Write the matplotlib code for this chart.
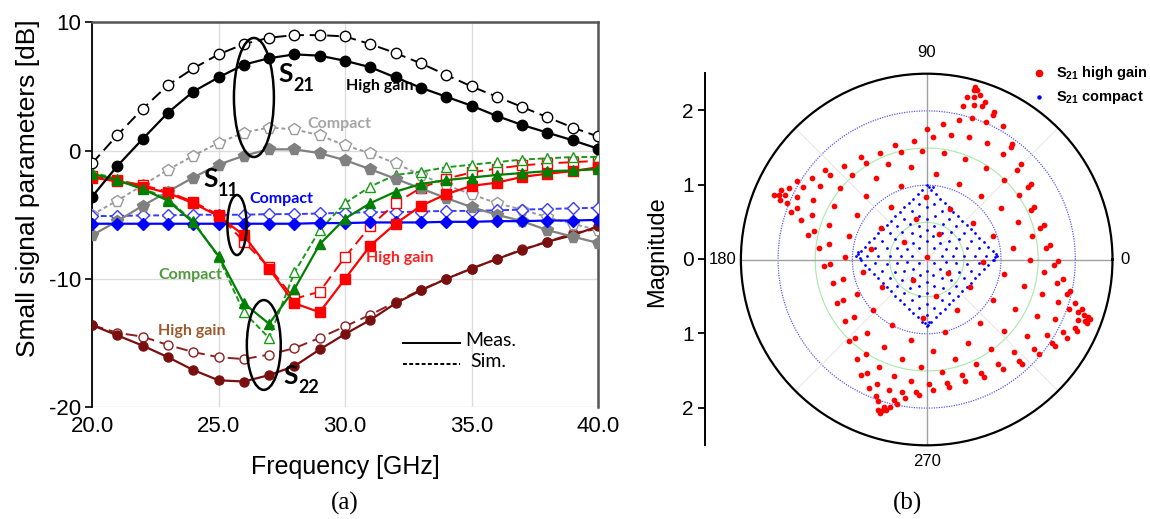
import numpy as np
import matplotlib
matplotlib.use('Agg')
import matplotlib.pyplot as plt
from matplotlib.patches import Ellipse
from matplotlib.lines import Line2D

plt.rcParams['font.family'] = ['Liberation Sans', 'DejaVu Sans']
plt.rcParams['mathtext.fontset'] = 'custom'
plt.rcParams['mathtext.rm'] = 'Liberation Sans'
plt.rcParams['mathtext.bf'] = 'Liberation Sans:bold'

# ---------------- data: panel (a) ----------------
freq_ghz = [20, 21, 22, 23, 24, 25, 26, 27, 28, 29, 30, 31, 32, 33, 34, 35, 36, 37, 38, 39, 40]

s21_hg_meas = [-3.6, -1.2, 0.9, 2.95, 4.6, 5.7, 6.7, 7.2, 7.5, 7.4, 7.0, 6.5, 5.7, 4.9, 4.2, 3.5, 2.7, 2.0, 1.4, 0.8, 0.15]
s21_hg_sim = [-1.0, 1.2, 3.25, 5.1, 6.4, 7.5, 8.3, 8.8, 9.0, 9.0, 8.9, 8.3, 7.6, 6.8, 5.9, 5.0, 4.2, 3.4, 2.6, 1.8, 1.1]

s11_cp_meas = [-6.6, -5.5, -4.3, -3.2, -2.1, -1.1, -0.4, 0.1, 0.1, -0.2, -0.75, -1.45, -2.2, -2.95, -3.7, -4.4, -5.0, -5.5, -6.2, -6.7, -7.2]
s11_cp_sim = [-5.0, -3.9, -2.7, -1.5, -0.4, 0.6, 1.4, 1.8, 1.65, 1.2, 0.4, -0.2, -1.0, -1.9, -2.7, -3.4, -4.1, -4.6, -5.2, -5.7, -6.2]

s11_hg_meas = [-5.7, -5.7, -5.7, -5.7, -5.7, -5.7, -5.7, -5.7, -5.7, -5.65, -5.65, -5.6, -5.6, -5.6, -5.55, -5.55, -5.5, -5.5, -5.45, -5.45, -5.4]
s11_hg_sim = [-5.1, -5.1, -5.05, -5.05, -5.0, -5.0, -5.0, -4.95, -4.95, -4.9, -4.85, -4.8, -4.8, -4.75, -4.7, -4.7, -4.65, -4.6, -4.55, -4.5, -4.45]

s22_red_meas = [-2.1, -2.4, -2.8, -3.3, -4.1, -5.1, -6.6, -9.2, -11.9, -12.6, -10.0, -7.4, -5.7, -4.3, -3.4, -2.75, -2.5, -2.05, -1.8, -1.6, -1.3]
s22_red_sim = [-2.0, -2.3, -2.7, -3.2, -4.0, -5.0, -7.1, -9.1, -11.55, -11.0, -8.3, -5.9, -4.1, -2.9, -2.2, -1.7, -1.4, -1.15, -1.0, -0.9, -0.8]

s22_cp_meas = [-1.8, -2.3, -3.0, -3.9, -5.6, -8.2, -11.9, -13.5, -10.8, -7.3, -5.3, -4.1, -3.2, -2.6, -2.3, -2.1, -1.9, -1.75, -1.6, -1.55, -1.45]
s22_cp_sim = [-1.7, -2.2, -2.9, -3.8, -5.5, -8.3, -12.6, -14.6, -9.5, -6.2, -4.1, -2.8, -1.9, -1.65, -1.3, -1.1, -0.9, -0.7, -0.6, -0.5, -0.5]

s22_hg_meas = [-13.6, -14.4, -15.2, -16.1, -17.1, -17.9, -18.0, -17.5, -16.8, -15.5, -14.3, -13.2, -11.9, -10.9, -10.0, -9.2, -8.45, -7.75, -7.1, -6.6, -5.9]
s22_hg_sim = [-13.6, -14.2, -14.5, -15.15, -15.7, -16.1, -16.25, -15.9, -15.4, -14.6, -13.7, -12.8, -11.8, -10.85, -10.0, -9.2, -8.45, -7.7, -7.1, -6.45, -6.1]

x_ticks = [20, 25, 30, 35, 40]
x_tick_labels = ['20.0', '25.0', '30.0', '35.0', '40.0']
y_ticks = [-20, -10, 0, 10]
y_tick_labels = ['-20', '-10', '0', '10']

# ---------------- data: panel (b) (real, imaginary parts of S21) ----------------
red_ul = [(0.01, 1.75), (-0.17, 1.60), (-0.43, 1.54), (-0.06, 1.46), (-0.34, 1.45), (-0.63, 1.43), (-0.89, 1.38),
          (-0.82, 1.30), (-0.52, 1.29), (-0.21, 1.24), (-1.11, 1.26), (-1.37, 1.21), (-1.30, 1.14), (-1.00, 1.14),
          (-0.68, 1.09), (-1.55, 1.09), (-1.75, 1.05), (-1.67, 0.98), (-1.44, 0.99), (-1.16, 0.96), (-0.34, 0.99),
          (-1.85, 0.96), (-1.96, 0.93), (-2.06, 0.87), (-1.99, 0.87), (-1.90, 0.87), (-1.98, 0.80), (-1.74, 0.84),
          (-0.82, 0.86), (-0.01, 0.84), (-1.88, 0.76), (-1.53, 0.80), (-1.25, 0.72), (-0.48, 0.71), (-1.74, 0.69),
          (-1.83, 0.64), (-1.55, 0.60), (-0.94, 0.60), (-0.15, 0.54), (-1.69, 0.53), (-1.31, 0.47), (-0.62, 0.43),
          (-1.51, 0.38), (-1.60, 0.33), (-1.04, 0.32), (-0.31, 0.23), (-1.32, 0.21), (-1.45, 0.15), (-0.75, 0.14),
          (-1.10, 0.03), (0.0, 0.03)]
red_ur = [(0.65, 2.32), (0.63, 2.28), (0.68, 2.28), (0.54, 2.18), (0.63, 2.19), (0.72, 2.21), (0.79, 2.12),
          (0.63, 2.08), (0.74, 2.06), (0.49, 2.06), (0.90, 1.99), (0.89, 1.95), (0.43, 1.88), (0.61, 1.90),
          (0.80, 1.85), (1.02, 1.79), (0.22, 1.82), (0.33, 1.68), (0.57, 1.65), (0.09, 1.65), (1.15, 1.56),
          (1.13, 1.52), (0.81, 1.57), (1.02, 1.42), (0.23, 1.43), (0.52, 1.35), (1.27, 1.28), (0.80, 1.23),
          (1.21, 1.21), (0.12, 1.15), (1.04, 1.07), (1.40, 1.02), (1.36, 0.98), (0.43, 1.01), (1.24, 0.87),
          (0.73, 0.86), (1.45, 0.71), (1.40, 0.66), (0.32, 0.68), (1.00, 0.69), (1.58, 0.47), (1.53, 0.42),
          (0.62, 0.49), (1.23, 0.51), (1.42, 0.32), (0.16, 0.34), (0.89, 0.32), (1.66, 0.19), (1.61, 0.16),
          (1.16, 0.16), (1.76, -0.02)]
red_ll = [(-1.30, -0.06), (-1.38, -0.09), (-0.86, -0.17), (-1.13, -0.26), (-1.26, -0.32), (-0.60, -0.37),
          (-0.18, -0.28), (-0.94, -0.47), (-1.13, -0.55), (-1.21, -0.58), (-0.72, -0.68), (-0.98, -0.77),
          (-1.10, -0.83), (-0.05, -0.79), (-0.47, -0.88), (-0.80, -0.99), (-0.97, -1.06), (-1.05, -1.10),
          (-0.21, -1.08), (-0.58, -1.18), (-0.82, -1.27), (-0.94, -1.34), (-0.33, -1.34), (-0.07, -1.45),
          (-0.64, -1.45), (-0.81, -1.53), (-0.89, -1.56), (-0.44, -1.57), (-0.21, -1.64), (0.03, -1.67),
          (-0.67, -1.67), (-0.78, -1.73), (-0.51, -1.75), (-0.14, -1.78), (-0.10, -1.82), (-0.33, -1.78),
          (-0.68, -1.84), (-0.29, -1.86), (-0.44, -1.89), (-0.40, -1.95), (-0.65, -1.90), (-0.57, -1.98),
          (-0.50, -1.98), (-0.65, -2.02), (-0.59, -2.02), (-0.63, -2.07), (-0.55, -2.03)]
red_lr = [(1.39, -0.01), (1.71, -0.07), (0.76, -0.03), (0.29, -0.18), (1.04, -0.20), (1.58, -0.17), (1.83, -0.26),
          (1.31, -0.35), (1.75, -0.32), (1.93, -0.43), (1.89, -0.47), (0.58, -0.37), (1.55, -0.47), (0.12, -0.49),
          (0.89, -0.54), (1.76, -0.57), (2.00, -0.58), (0.41, -0.68), (1.19, -0.67), (1.92, -0.66), (2.09, -0.67),
          (2.04, -0.71), (1.48, -0.76), (1.72, -0.80), (2.12, -0.75), (2.17, -0.77), (2.20, -0.80), (2.13, -0.83),
          (2.04, -0.82), (2.16, -0.85), (0.72, -0.85), (1.99, -0.92), (2.02, -0.96), (1.83, -0.98), (1.89, -1.05),
          (0.25, -0.97), (1.04, -0.96), (1.62, -1.02), (1.35, -1.03), (1.69, -1.13), (1.73, -1.17), (0.55, -1.13),
          (0.87, -1.21), (1.17, -1.24), (1.45, -1.20), (1.51, -1.27), (0.08, -1.23), (0.38, -1.34), (1.24, -1.36),
          (1.28, -1.40), (0.67, -1.40), (0.96, -1.41), (1.02, -1.48), (0.20, -1.52), (0.47, -1.55), (0.73, -1.53),
          (0.77, -1.58), (0.51, -1.63), (0.27, -1.66), (0.30, -1.71), (0.08, -1.75)]

blue_outer = [(0, 1.0), (0.06, 0.94), (0.12, 0.88), (0.18, 0.82), (0.24, 0.76), (0.30, 0.70), (0.36, 0.64),
              (0.42, 0.58), (0.48, 0.52), (0.54, 0.46), (0.59, 0.41), (0.65, 0.35), (0.71, 0.29), (0.77, 0.23),
              (0.83, 0.17), (0.89, 0.11), (0.95, 0.05), (0.89, -0.01), (0.83, -0.07), (0.77, -0.13), (0.71, -0.19),
              (0.65, -0.25), (0.59, -0.31), (0.54, -0.37), (0.48, -0.43), (0.42, -0.49), (0.36, -0.54),
              (0.30, -0.60), (0.24, -0.66), (0.18, -0.72), (0.12, -0.78), (0.06, -0.84), (0, -0.90),
              (-0.06, -0.84), (-0.12, -0.78), (-0.18, -0.72), (-0.24, -0.66), (-0.30, -0.60), (-0.36, -0.54),
              (-0.42, -0.49), (-0.48, -0.43), (-0.54, -0.37), (-0.59, -0.31), (-0.65, -0.25), (-0.71, -0.19),
              (-0.77, -0.13), (-0.83, -0.07), (-0.89, -0.01), (-0.95, 0.05), (-0.89, 0.11), (-0.83, 0.17),
              (-0.77, 0.23), (-0.71, 0.29), (-0.65, 0.35), (-0.59, 0.41), (-0.54, 0.46), (-0.48, 0.52),
              (-0.42, 0.58), (-0.36, 0.64), (-0.30, 0.70), (-0.24, 0.76), (-0.18, 0.82), (-0.12, 0.88),
              (-0.06, 0.94), (0.03, 0.98), (0.08, 0.97), (0.92, 0.03), (0.93, 0.07), (0.90, 0.0), (0.02, -0.88),
              (-0.02, -0.86), (0.03, -0.84), (-0.93, 0.07), (-0.90, 0.02), (-0.92, 0.10)]
blue_inner = [(0, 0.85), (0.1, 0.75), (0.2, 0.65), (0.3, 0.55), (0.4, 0.45), (0.5, 0.35), (0.6, 0.25), (0.7, 0.15),
              (0.8, 0.05), (0.7, -0.05), (0.6, -0.15), (0.5, -0.25), (0.4, -0.35), (0.3, -0.45), (0.2, -0.55),
              (0.1, -0.65), (0, -0.75), (-0.1, -0.65), (-0.2, -0.55), (-0.3, -0.45), (-0.4, -0.35), (-0.5, -0.25),
              (-0.6, -0.15), (-0.7, -0.05), (-0.8, 0.05), (-0.7, 0.15), (-0.6, 0.25), (-0.5, 0.35), (-0.4, 0.45),
              (-0.3, 0.55), (-0.2, 0.65), (-0.1, 0.75),
              (0, 0.70), (0.11, 0.59), (0.22, 0.48), (0.33, 0.37), (0.43, 0.27), (0.54, 0.16), (0.65, 0.05),
              (0.54, -0.06), (0.43, -0.17), (0.33, -0.27), (0.22, -0.38), (0.11, -0.49), (0, -0.60), (-0.11, -0.49),
              (-0.22, -0.38), (-0.33, -0.27), (-0.43, -0.17), (-0.54, -0.06), (-0.65, 0.05), (-0.54, 0.16),
              (-0.43, 0.27), (-0.33, 0.37), (-0.22, 0.48), (-0.11, 0.59),
              (0, 0.55), (0.1, 0.45), (0.2, 0.35), (0.3, 0.25), (0.4, 0.15), (0.5, 0.05), (0.4, -0.05), (0.3, -0.15),
              (0.2, -0.25), (0.1, -0.35), (0, -0.45), (-0.1, -0.35), (-0.2, -0.25), (-0.3, -0.15), (-0.4, -0.05),
              (-0.5, 0.05), (-0.4, 0.15), (-0.3, 0.25), (-0.2, 0.35), (-0.1, 0.45),
              (0, 0.40), (0.09, 0.31), (0.18, 0.22), (0.26, 0.14), (0.35, 0.05), (0.26, -0.04), (0.18, -0.13),
              (0.09, -0.21), (0, -0.30), (-0.09, -0.21), (-0.18, -0.13), (-0.26, -0.04), (-0.35, 0.05),
              (-0.26, 0.14), (-0.18, 0.22), (-0.09, 0.31),
              (0, 0.25), (0.1, 0.15), (0.2, 0.05), (0.1, -0.05), (0, -0.15), (-0.1, -0.05), (-0.2, 0.05), (-0.1, 0.15)]

mag_ticks = [-2, -1, 0, 1, 2]
mag_tick_labels = ['2', '1', '0', '1', '2']
angle_labels = ['0', '90', '180', '270']

# ---------------- figure ----------------
W, H = 1150, 519
fig = plt.figure(figsize=(W / 100, H / 100), dpi=100)
fig.patch.set_facecolor('white')

ax = fig.add_axes([92 / W, (H - 407.2) / H, 506 / W, 384.9 / H])
ax.set_xlim(20, 40)
ax.set_ylim(-20, 10)
ax.set_xticks(x_ticks)
ax.set_xticklabels(x_tick_labels, fontsize=16)
ax.set_yticks(y_ticks)
ax.set_yticklabels(y_tick_labels, fontsize=16)
ax.tick_params(axis='x', length=0, pad=6)
ax.tick_params(axis='y', length=5, width=1.2, direction='out', pad=3)
ax.grid(True, color='#dcdcdc', lw=1.0)
ax.set_axisbelow(True)
for side in ['top', 'right']:
    ax.spines[side].set_color('#555555')
    ax.spines[side].set_linewidth(1.8)
ax.spines['bottom'].set_visible(False)
ax.spines['left'].set_color('black')
ax.spines['left'].set_linewidth(1.3)

lw = 1.6
def plot_pair(meas, sim, color, marker, ms, dash, sim_color=None):
    sc = sim_color or color
    ax.plot(freq_ghz, sim, color=sc, ls=dash, lw=1.4, marker=marker, ms=ms,
            mfc='white', mec=sc, mew=1.0, zorder=3)
    ax.plot(freq_ghz, meas, color=color, ls='-', lw=lw, marker=marker, ms=ms,
            mfc=color, mec=color, zorder=4)

plot_pair(s22_hg_meas, s22_hg_sim, '#7a0f0f', 'o', 6.5, (0, (6, 3)), '#8b2020')
plot_pair(s11_cp_meas, s11_cp_sim, '#808080', 'p', 8.5, (0, (2, 1.5)), '#9a9a9a')
plot_pair(s11_hg_meas, s11_hg_sim, '#0000ff', 'D', 6.5, (0, (3, 1.5)), '#3a3aff')
plot_pair(s22_red_meas, s22_red_sim, '#ff0000', 's', 6.5, (0, (6, 3)))
plot_pair(s22_cp_meas, s22_cp_sim, '#008000', '^', 7.5, (0, (3, 1.5)), '#1a9a1a')
plot_pair(s21_hg_meas, s21_hg_sim, '#000000', 'o', 7.5, (0, (6, 3)))

# ellipses
for (cx, cy, ew, eh) in [(26.4, 4.14, 1.58, 9.28), (25.73, -5.8, 0.76, 4.68), (26.79, -15.15, 1.34, 7.0)]:
    ax.add_patch(Ellipse((cx, cy), ew, eh, fill=False, ec='black', lw=1.8, zorder=6))

ann_font = ['Lato', 'DejaVu Sans']
def s_label(x, y, sub, subx, suby):
    ax.text(x, y, 'S', fontsize=19, fontweight='bold', family=ann_font, ha='left', va='baseline', zorder=7)
    ax.text(subx, suby, sub, fontsize=13, fontweight='bold', family=ann_font, ha='left', va='baseline', zorder=7)

s_label(27.35, 5.35, '21', 27.95, 4.65)
s_label(24.39, -2.84, '11', 24.98, -3.54)
s_label(27.55, -18.19, '22', 28.14, -18.89)

def ann(x, y, s, c):
    ax.text(x, y, s, fontsize=11.5, fontweight='bold', family=ann_font, color=c, ha='center', va='center', zorder=7)

ann(31.38, 5.03, 'High gain', 'black')
ann(29.76, 2.07, 'Compact', '#a6a6a6')
ann(27.47, -3.77, 'Compact', '#0000ff')
ann(23.87, -9.7, 'Compact', '#4e9a3a')
ann(23.95, -14.06, 'High gain', '#9c5a2e')
ann(32.17, -8.37, 'High gain', '#ff2020')

ax.plot([32.29, 34.55], [-15.0, -15.0], color='black', lw=1.4, zorder=5)
ax.plot([32.29, 34.55], [-16.64, -16.64], color='black', lw=1.4, ls=(0, (2, 1.2)), zorder=5)
ax.text(34.74, -14.84, 'Meas.', fontsize=14, family=ann_font, ha='left', va='center')
ax.text(34.94, -16.4, 'Sim.', fontsize=14, family=ann_font, ha='left', va='center')

fig.text(345 / W, (H - 467) / H, 'Frequency [GHz]', fontsize=18, ha='center', va='center')
fig.text(28 / W, (H - 188) / H, 'Small signal parameters [dB]', fontsize=19, ha='center', va='center', rotation=90)

fig.text(345 / W, (H - 503) / H, '(a)', fontsize=18, family=['Liberation Serif'], ha='center', va='center')
fig.text(907 / W, (H - 503) / H, '(b)', fontsize=18, family=['Liberation Serif'], ha='center', va='center')

# ---------------- polar panel ----------------
cxp, cyp, R = 926.7, 259.5, 185.8
pax = fig.add_axes([(cxp - R) / W, (H - cyp - R) / H, 2 * R / W, 2 * R / H], projection='polar')
pax.set_ylim(0, 2.5)
pax.grid(False)
pax.set_yticks([])
pax.set_xticks([])
pax.spines['polar'].set_linewidth(1.6)
pax.spines['polar'].set_color('black')

th = np.linspace(0, 2 * np.pi, 400)
for rr in [1.0, 2.0]:
    pax.plot(th, np.full_like(th, rr), color='#5a5aff', lw=0.9, ls=(0, (1, 1)), zorder=1)
for rr in [0.5, 1.5]:
    pax.plot(th, np.full_like(th, rr), color='#a8e8a8', lw=0.8, zorder=1)
for a in [0, 90, 180, 270]:
    pax.plot([np.deg2rad(a)] * 2, [0, 2.5], color='#a0a0a0', lw=1.0, zorder=1)
for a in [45, 135, 225, 315]:
    pax.plot([np.deg2rad(a)] * 2, [0, 2.5], color='#e6e6e6', lw=0.7, zorder=1)

red_pts = np.array(red_ul + red_ur + red_ll + red_lr)
blue_pts = np.array(blue_outer + blue_inner)
pax.scatter(np.arctan2(blue_pts[:, 1], blue_pts[:, 0]), np.hypot(blue_pts[:, 0], blue_pts[:, 1]),
            s=4, color='#0000ff', marker='o', linewidths=0, zorder=4)
pax.scatter(np.arctan2(red_pts[:, 1], red_pts[:, 0]), np.hypot(red_pts[:, 0], red_pts[:, 1]),
            s=17, color='#ff0000', linewidths=0, zorder=5)

pax.text(0.5, 1.057, angle_labels[1], transform=pax.transAxes, fontsize=12, ha='center', va='center')
pax.text(1.02, 0.5, angle_labels[0], transform=pax.transAxes, fontsize=12, ha='left', va='center')
pax.text(-0.012, 0.5, angle_labels[2], transform=pax.transAxes, fontsize=12, ha='right', va='center')
pax.text(0.5, -0.043, angle_labels[3], transform=pax.transAxes, fontsize=12, ha='center', va='center')

# magnitude axis
max_ = fig.add_axes([705 / W, (H - 445) / H, 0.0005, 372 / H])
max_.set_ylim(-2.5, 2.5)
max_.set_xticks([])
max_.set_yticks(mag_ticks)
max_.set_yticklabels(mag_tick_labels, fontsize=15)
max_.tick_params(axis='y', length=5, width=1.3, direction='out', pad=3)
for side in ['top', 'right', 'bottom']:
    max_.spines[side].set_visible(False)
max_.spines['left'].set_linewidth(1.4)
max_.patch.set_visible(False)
fig.text(657 / W, (H - 252) / H, 'Magnitude', fontsize=17, ha='center', va='center', rotation=90)

# legend for polar
fig.add_artist(Line2D([1039 / W], [(H - 73) / H], transform=fig.transFigure, marker='o', ms=4.5,
                      color='#ff0000', ls='none'))
fig.add_artist(Line2D([1039 / W], [(H - 97) / H], transform=fig.transFigure, marker='o', ms=2.2,
                      color='#0000ff', ls='none'))
fig.text(1056 / W, (H - 73) / H, r'S$_{\mathbf{21}}$ high gain', fontsize=10.5, fontweight='bold', ha='left', va='center')
fig.text(1056 / W, (H - 97) / H, r'S$_{\mathbf{21}}$ compact', fontsize=10.5, fontweight='bold', ha='left', va='center')

fig.savefig('out.png', dpi=100, facecolor='white')
